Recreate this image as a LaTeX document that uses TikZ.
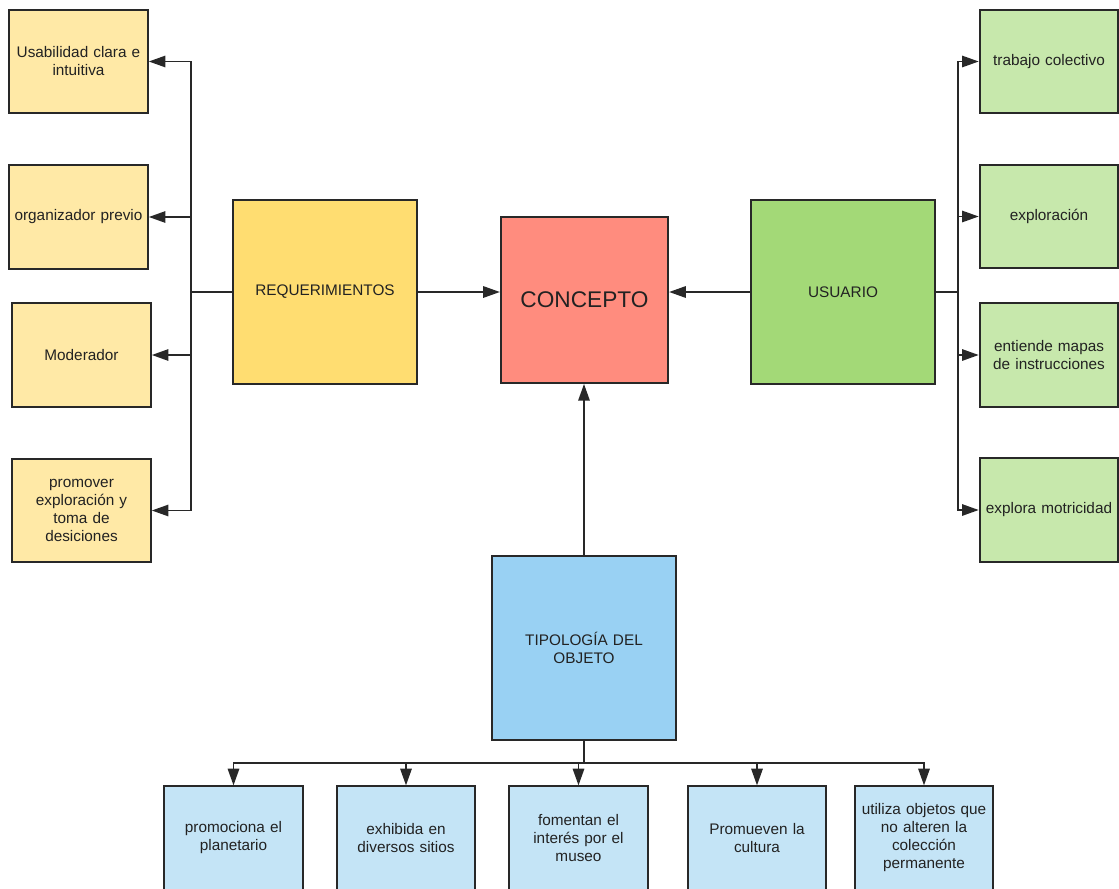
\documentclass[tikz,border=0pt]{standalone}
\usepackage{fontspec}
\setmainfont{Liberation Sans}
\usetikzlibrary{arrows.meta}
\definecolor{lightyel}{RGB}{255,233,166}
\definecolor{yel}{RGB}{255,221,113}
\definecolor{salmon}{RGB}{255,140,126}
\definecolor{grn}{RGB}{163,217,119}
\definecolor{lightgrn}{RGB}{199,232,172}
\definecolor{blu}{RGB}{153,209,243}
\definecolor{lightblu}{RGB}{196,228,246}
\definecolor{ink}{RGB}{34,34,34}
\definecolor{edge}{RGB}{40,40,40}
\begin{document}
\begin{tikzpicture}[x=0.75pt,y=-0.75pt,
  box/.style={draw=edge,line width=1.4pt,inner sep=2pt,align=center,text=ink,
    font=\fontsize{11.5}{13.5}\selectfont},
  smallbox/.style={box,minimum width=104pt,minimum height=77.5pt,text width=98pt},
  bigbox/.style={box,minimum width=138pt,minimum height=138pt,text width=130pt},
  link/.style={draw=edge,line width=1.4pt},
  arrowlink/.style={link,-{Triangle[length=12.5pt,width=8.5pt]}}]
\useasboundingbox (0,0) rectangle (1119,888);
\begin{scope}
\clip (0,0) rectangle (1119,888);

% central boxes
\node[bigbox,fill=yel] (req) at (325,292) {REQUERIMIENTOS\\[3pt]};
\node[box,fill=salmon,minimum width=125.5pt,minimum height=124.5pt,
  font=\fontsize{17}{20}\selectfont] (con) at (584.5,300) {CONCEPTO};
\node[bigbox,fill=grn] (usr) at (843,292) {USUARIO\\[3pt]};
\node[bigbox,fill=blu] (tipo) at (584,648) {TIPOLOGÍA DEL\\OBJETO};

% requirement boxes
\node[smallbox,fill=lightyel] (l1) at (78.5,61.5) {Usabilidad clara e\\intuitiva};
\node[smallbox,fill=lightyel] (l2) at (78.5,217) {organizador previo};
\node[smallbox,fill=lightyel] (l3) at (81.5,355) {Moderador};
\node[smallbox,fill=lightyel] (l4) at (81.5,510.5) {promover\\exploración y\\toma de\\desiciones};

% user boxes
\node[smallbox,fill=lightgrn] (r1) at (1049,61.5) {trabajo colectivo};
\node[smallbox,fill=lightgrn] (r2) at (1049,216.5) {exploración};
\node[smallbox,fill=lightgrn] (r3) at (1049,355) {entiende mapas\\de instrucciones};
\node[smallbox,fill=lightgrn] (r4) at (1049,510) {explora motricidad};

% object typology boxes
\node[smallbox,fill=lightblu] (b1) at (233.5,838) {promociona el\\planetario};
\node[smallbox,fill=lightblu] (b2) at (406,838) {exhibida en\\diversos sitios};
\node[smallbox,fill=lightblu] (b3) at (578.5,838) {fomentan el\\interés por el\\museo};
\node[smallbox,fill=lightblu] (b4) at (757,838) {Promueven la\\cultura};
\node[smallbox,fill=lightblu] (b5) at (924,838) {utiliza objetos que\\no alteren la\\colección\\permanente};

% links into the concept
\draw[arrowlink] (req.east) -- (req.east -| con.west);
\draw[arrowlink] (usr.west) -- (usr.west -| con.east);
\draw[arrowlink] (tipo.north) -- (tipo.north |- con.south);

% left branch
\coordinate (ltrunk) at (191,292);
\draw[link] (req.west) -- (ltrunk);
\foreach \n in {l1,l2,l3,l4} \draw[arrowlink] (ltrunk) |- (\n.east);

% right branch
\coordinate (rtrunk) at (958,292);
\draw[link] (usr.east) -- (rtrunk);
\foreach \n in {r1,r2,r3,r4} \draw[arrowlink] (rtrunk) |- (\n.west);

% bottom branch
\coordinate (bus) at (584,763);
\draw[link] (tipo.south) -- (bus);
\foreach \n in {b1,b2,b3,b4,b5} \draw[arrowlink] (bus) -| (\n.north);
\end{scope}
\end{tikzpicture}
\end{document}
